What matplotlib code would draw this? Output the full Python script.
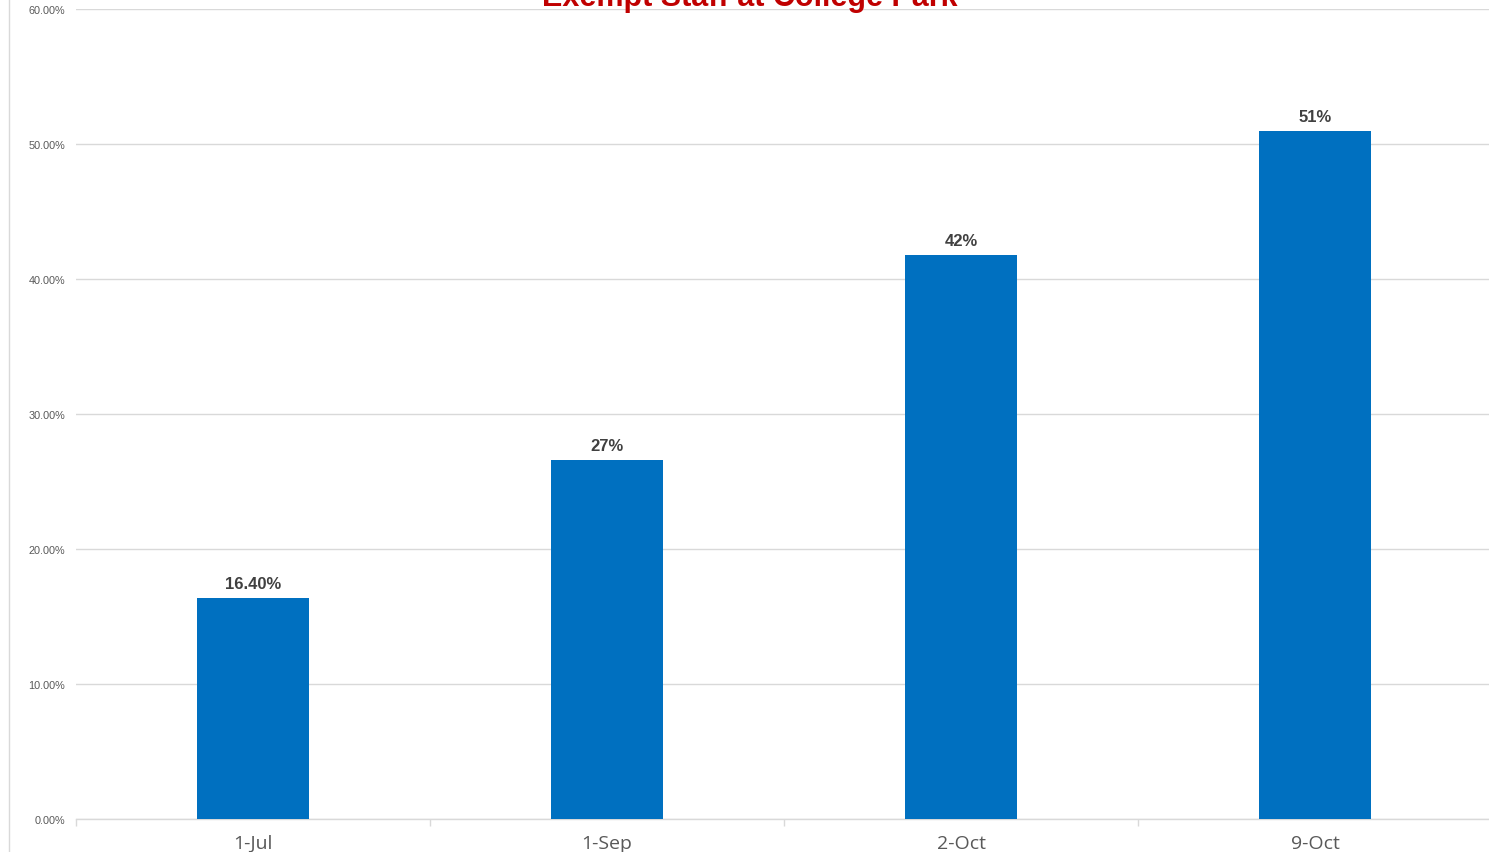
import matplotlib
matplotlib.use("Agg")
import matplotlib.pyplot as plt
from matplotlib.ticker import FuncFormatter, FixedLocator
from matplotlib.lines import Line2D

categories = ["1-Jul", "1-Sep", "2-Oct", "9-Oct"]
values = [16.4, 26.6, 41.8, 51.0]
labels = ["16.40%", "27%", "42%", "51%"]
title = "Exempt Staff at College Park"

W, H = 1489, 853
fig = plt.figure(figsize=(W / 100, H / 100), dpi=100)
ax = fig.add_axes([76 / W, 33 / H, (1492 - 76) / W, (820 - 10) / H])

x = list(range(len(categories)))
ax.bar(x, values, width=0.314, color="#0070C0", zorder=3)
ax.set_xlim(-0.5, len(categories) - 0.5)
ax.set_ylim(0, 60)
ax.set_yticks([0, 10, 20, 30, 40, 50, 60])
ax.yaxis.set_major_formatter(FuncFormatter(lambda v, p: f"{v:.2f}%"))
ax.grid(axis="y", color="#d9d9d9", linewidth=1, zorder=0)
for s in ["top", "right", "left"]:
    ax.spines[s].set_visible(False)
ax.spines["bottom"].set_color("#d9d9d9")
ax.spines["bottom"].set_linewidth(1)
ax.tick_params(axis="y", length=0, pad=8, labelsize=7.8, labelcolor="#595959")
for lab in ax.get_yticklabels():
    lab.set_fontfamily("Liberation Sans")

ax.set_xticks(x)
ax.set_xticklabels(categories, fontsize=14, color="#595959", fontfamily="Open Sans")
ax.tick_params(axis="x", length=0, pad=11)
ax.xaxis.set_minor_locator(FixedLocator([i - 0.5 for i in range(len(categories) + 1)]))
ax.tick_params(axis="x", which="minor", length=5, color="#d9d9d9", width=1)

for xi, v, t in zip(x, values, labels):
    ax.annotate(t, (xi, v), xytext=(0, 5), textcoords="offset points",
                ha="center", va="bottom", fontsize=12, fontweight="bold",
                color="#404040", fontfamily="Liberation Sans")

fig.text(750 / W, 1 - 6 / H, title, ha="center", va="baseline",
         fontsize=22, fontweight="bold", color="#C00000", fontfamily="Liberation Sans")

fig.add_artist(Line2D([8.5 / W, 8.5 / W], [0, 1], transform=fig.transFigure,
                      color="#d9d9d9", linewidth=1))

fig.savefig("out.png", dpi=100)
